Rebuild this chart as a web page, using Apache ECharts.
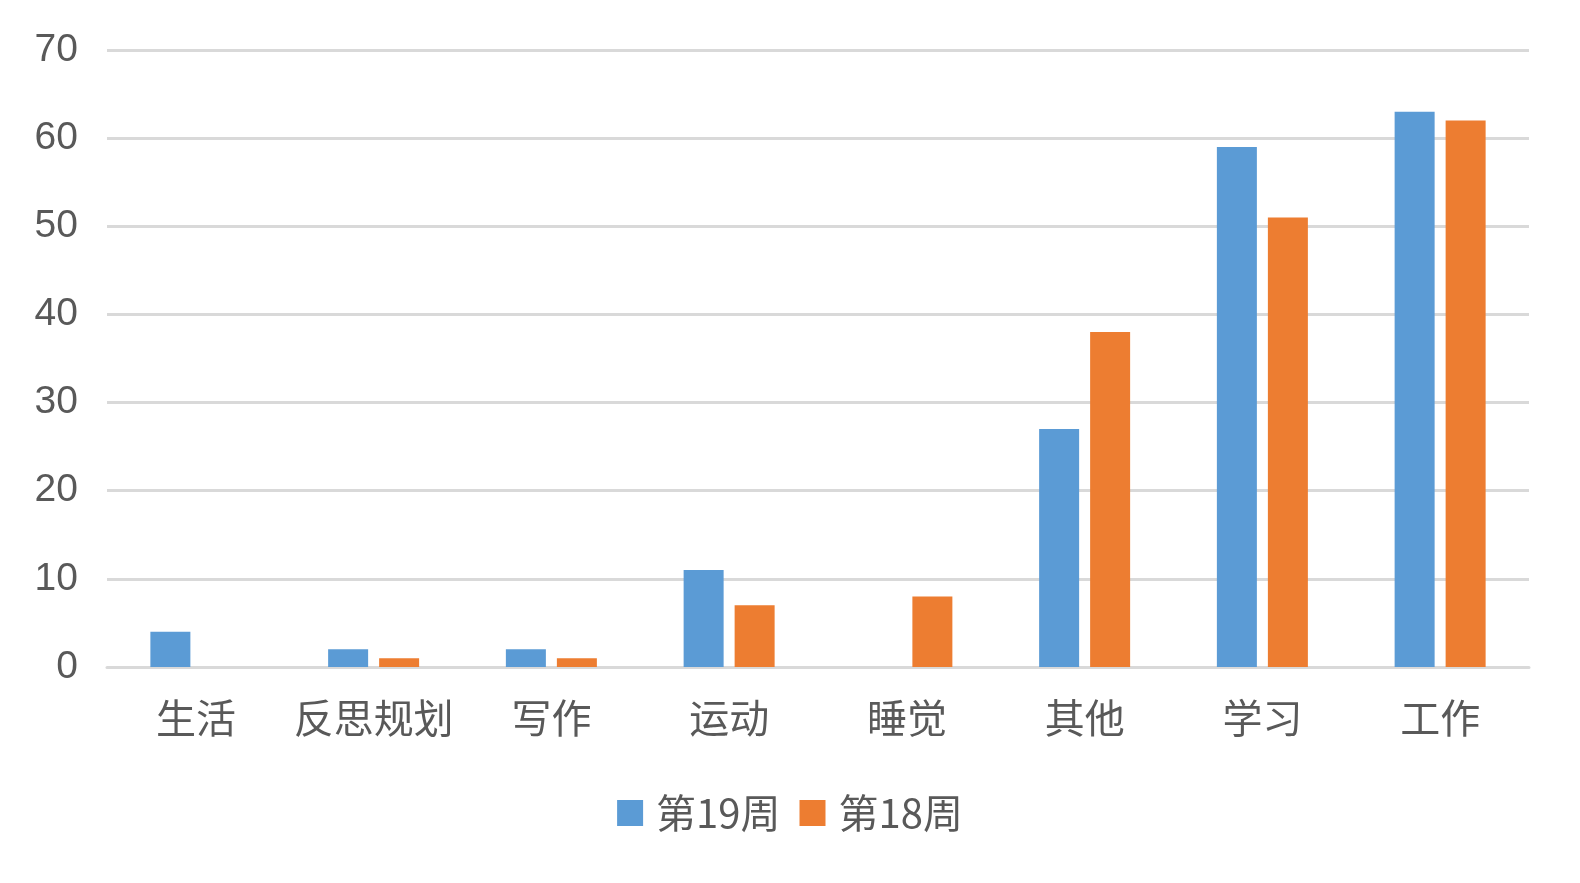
<!DOCTYPE html>
<html>
<head>
<meta charset="utf-8">
<script src="https://cdn.jsdelivr.net/npm/echarts@6/dist/echarts.min.js"></script>
<style>
  html, body { margin: 0; padding: 0; background: #fff; }
  #main { width: 1580px; height: 883px; }
</style>
</head>
<body>
<div id="main"></div>
<script>
// 分类和数据
var categories = ['生活', '反思规划', '写作', '运动', '睡觉', '其他', '学习', '工作']
var week19 = [4, 2, 2, 11, 0, 27, 59, 63]
var week18 = [0, 1, 1, 7, 8, 38, 51, 62]
var seriesNames = ['第19周', '第18周']

var myChart = echarts.init(document.getElementById('main'))

var option = {
  animation: false,
  color: ['#5B9BD5', '#ED7D31'],
  grid: {
    left: 107,
    right: 51,
    top: 50,
    bottom: 216
  },
  legend: {
    bottom: 45,
    left: 'center',
    itemWidth: 26,
    itemHeight: 26,
    itemGap: 19,
    icon: 'rect',
    textStyle: {
      fontSize: 40,
      color: '#595959',
      fontFamily: 'Noto Sans CJK SC',
      padding: [0, 0, 0, 8]
    },
    data: seriesNames
  },
  xAxis: {
    type: 'category',
    data: categories,
    axisTick: { show: false },
    axisLine: { lineStyle: { color: '#d9d9d9', width: 3 } },
    axisLabel: {
      interval: 0,
      margin: 31,
      fontSize: 40,
      color: '#595959',
      fontFamily: 'Noto Sans CJK SC'
    }
  },
  yAxis: {
    type: 'value',
    min: 0,
    max: 70,
    interval: 10,
    axisLine: { show: false },
    axisTick: { show: false },
    splitLine: { lineStyle: { color: '#d9d9d9', width: 3 } },
    axisLabel: {
      margin: 29,
      fontSize: 39,
      color: '#595959',
      fontFamily: 'Liberation Sans',
      padding: [6, 0, 0, 0]
    }
  },
  series: [
    {
      name: seriesNames[0],
      type: 'bar',
      data: week19,
      barWidth: 40,
      barGap: '27.5%'
    },
    {
      name: seriesNames[1],
      type: 'bar',
      data: week18,
      barWidth: 40,
      barGap: '27.5%'
    }
  ]
}

myChart.setOption(option)
</script>
</body>
</html>
